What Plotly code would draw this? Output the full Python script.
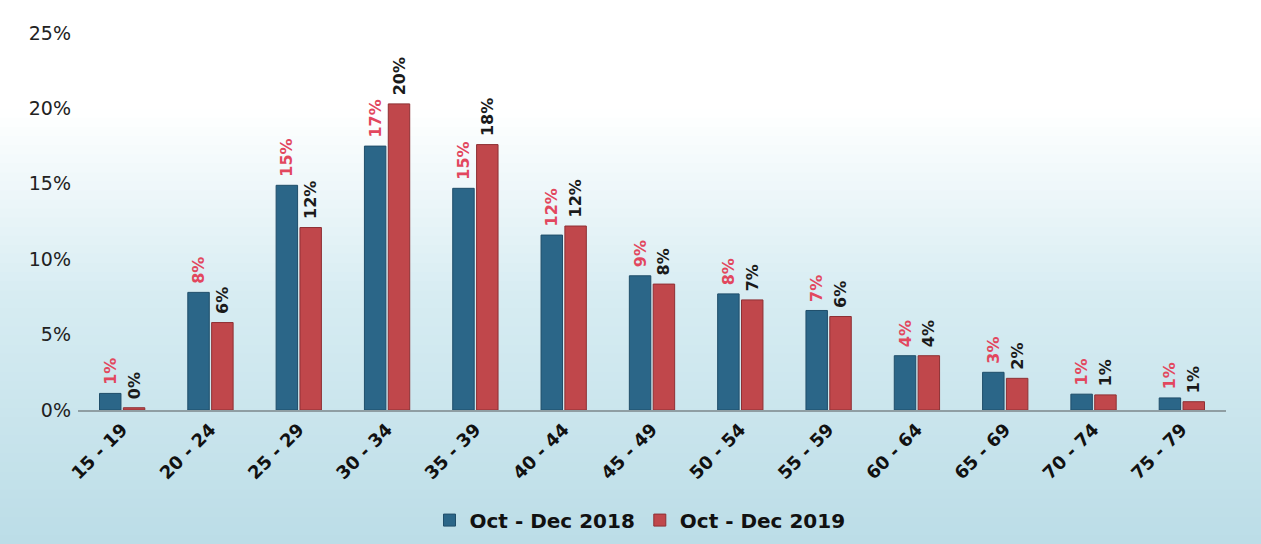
import plotly.graph_objects as go

categories = ["15 - 19", "20 - 24", "25 - 29", "30 - 34", "35 - 39", "40 - 44", "45 - 49",
              "50 - 54", "55 - 59", "60 - 64", "65 - 69", "70 - 74", "75 - 79"]
vals_2018 = [1.1, 7.8, 14.9, 17.5, 14.7, 11.6, 8.9, 7.7, 6.6, 3.6, 2.5, 1.05, 0.8]
vals_2019 = [0.15, 5.8, 12.1, 20.3, 17.6, 12.2, 8.35, 7.3, 6.2, 3.6, 2.1, 1.0, 0.55]
labels_2018 = ["1%", "8%", "15%", "17%", "15%", "12%", "9%", "8%", "7%", "4%", "3%", "1%", "1%"]
labels_2019 = ["0%", "6%", "12%", "20%", "18%", "12%", "8%", "7%", "6%", "4%", "2%", "1%", "1%"]
series_names = ["Oct - Dec 2018", "Oct - Dec 2019"]
y_ticks = [0, 5, 10, 15, 20, 25]
y_tick_text = ["0%", "5%", "10%", "15%", "20%", "25%"]

W, H = 1261, 544
ML, MR, MT, MB = 78, 35, 33, 134
pw, ph = W - ML - MR, H - MT - MB

FONT = "DejaVu Sans"
PAD = "\u00a0"  # small visual gap between bar top and rotated label

fig = go.Figure()
fig.add_trace(go.Bar(
    x=categories, y=vals_2018, name=series_names[0],
    marker=dict(color="#2b6688", line=dict(color="#1f4e6a", width=1)),
    text=[PAD + s for s in labels_2018], textposition="outside", textangle=-90,
    textfont=dict(family=FONT, size=16, color="#e2475e", weight="bold"),
    cliponaxis=False, constraintext="none",
))
fig.add_trace(go.Bar(
    x=categories, y=vals_2019, name=series_names[1],
    marker=dict(color="#c0474b", line=dict(color="#8e3034", width=1)),
    text=[PAD + s for s in labels_2019], textposition="outside", textangle=-90,
    textfont=dict(family=FONT, size=16, color="#1a1a1a", weight="bold"),
    cliponaxis=False, constraintext="none",
))

# background gradient (white at top to light blue at bottom)
def lerp(a, b, t):
    return tuple(int(round(a[i] + (b[i] - a[i]) * t)) for i in range(3))

n = 60
top_c = (255, 255, 255)
mid_c = (214, 236, 242)
bot_c = (188, 221, 231)
shapes = []
for i in range(n):
    p0 = i * H / n
    p1 = (i + 1) * H / n + 1
    pc = (p0 + p1) / 2
    if pc < 110:
        c = top_c
    elif pc < 300:
        c = lerp(top_c, mid_c, (pc - 110) / 190)
    else:
        c = lerp(mid_c, bot_c, (pc - 300) / (H - 300))
    y0 = (H - MB - p1) / ph
    y1 = (H - MB - p0) / ph
    shapes.append(dict(type="rect", xref="paper", yref="paper",
                       x0=-ML / pw, x1=(W - ML) / pw, y0=y0, y1=y1,
                       fillcolor="rgb(%d,%d,%d)" % c, line=dict(width=0), layer="below"))

fig.update_layout(
    width=W, height=H,
    margin=dict(l=ML, r=MR, t=MT, b=MB, autoexpand=False),
    paper_bgcolor="white", plot_bgcolor="rgba(0,0,0,0)",
    shapes=shapes,
    barmode="group", bargap=0.46, bargroupgap=0.1,
    font=dict(family=FONT, color="#222222"),
    showlegend=True,
    legend=dict(orientation="h", x=(640 - ML) / pw, xanchor="center", y=-0.292, yanchor="middle",
                font=dict(family=FONT, size=20, color="#111111", weight="bold"),
                bgcolor="rgba(0,0,0,0)", itemwidth=30, traceorder="normal"),
    xaxis=dict(tickangle=-45, tickfont=dict(family=FONT, size=18, color="#111111", weight="bold"),
               showline=True, linecolor="#8f9ea3", linewidth=2, showgrid=False, ticks="",
               range=[-0.5, 12.5]),
    yaxis=dict(range=[0, 25], tickvals=y_ticks, ticktext=y_tick_text,
               tickfont=dict(family=FONT, size=19, color="#222222"),
               showgrid=False, zeroline=False, showline=False, ticks="",
               ticklabelstandoff=6),
)

fig.write_html("out.html", config={"displayModeBar": False},
               post_script="document.body.style.margin='0';")
